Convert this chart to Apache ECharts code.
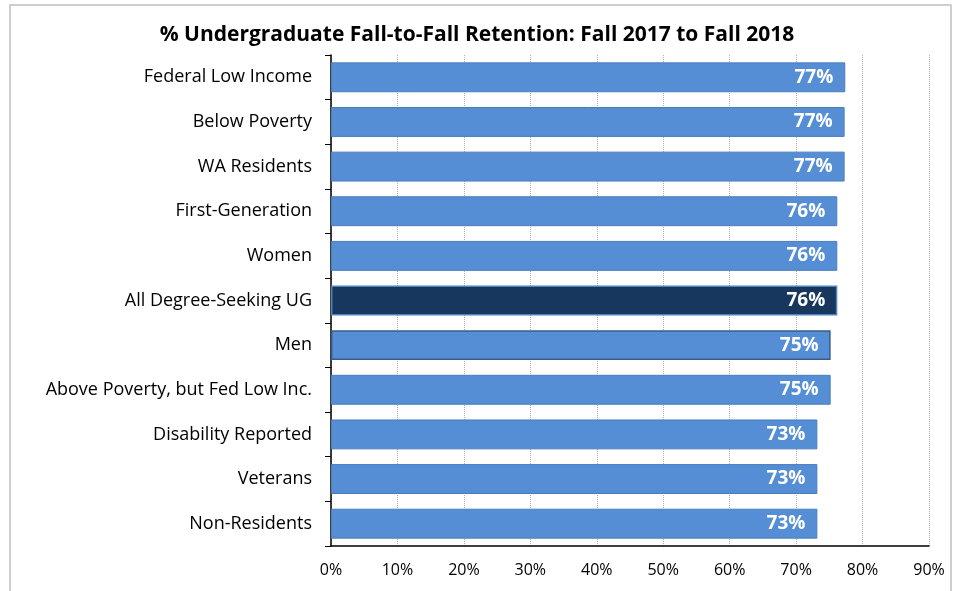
<!DOCTYPE html>
<html>
<head>
<meta charset="utf-8">
<script src="https://cdn.jsdelivr.net/npm/echarts@6/dist/echarts.min.js"></script>
<style>
  html, body { margin: 0; padding: 0; background: #fff; }
  #chart { width: 954px; height: 591px; }
</style>
</head>
<body>
<div id="chart"></div>
<script>
var categories = ['Federal Low Income', 'Below Poverty', 'WA Residents', 'First-Generation', 'Women',
  'All Degree-Seeking UG', 'Men', 'Above Poverty, but Fed Low Inc.', 'Disability Reported', 'Veterans', 'Non-Residents'];
var retention = [77.4, 77.3, 77.3, 76.2, 76.2, 76.2, 75.2, 75.2, 73.2, 73.2, 73.2];
var highlight = 'All Degree-Seeking UG';
var xTicks = [0, 10, 20, 30, 40, 50, 60, 70, 80, 90];

var font = '"Open Sans", sans-serif';

var myChart = echarts.init(document.getElementById('chart'));
var barData = retention.map(function (v, i) {
  var item = { value: v };
  if (categories[i] === highlight) {
    item.itemStyle = { color: '#17375E', borderColor: '#4F81BD', borderWidth: 1.5 };
  } else if (categories[i] === 'Men') {
    item.itemStyle = { color: '#558ED5', borderColor: '#385D8A', borderWidth: 1.5 };
  }
  return item;
});

var option = {
  animation: false,
  title: {
    text: '% Undergraduate Fall-to-Fall Retention: Fall 2017 to Fall 2018',
    left: 'center',
    top: 20,
    textStyle: { fontFamily: font, fontWeight: 'bold', fontSize: 21, color: '#000' }
  },
  graphic: [{
    type: 'rect',
    shape: { x: 10, y: 5, width: 941, height: 600 },
    style: { fill: 'none', stroke: '#bfbfbf', lineWidth: 1.5 },
    silent: true
  }],
  grid: { left: 331, top: 55, right: 25, bottom: 45 },
  xAxis: {
    type: 'value',
    min: xTicks[0],
    max: xTicks[xTicks.length - 1],
    interval: 10,
    axisLine: { show: true, lineStyle: { color: '#000', width: 1.5 } },
    axisTick: { show: false },
    axisLabel: {
      formatter: '{value}%', fontFamily: font, fontSize: 16, color: '#000', margin: 16
    },
    splitLine: { show: true, lineStyle: { color: '#b0b0b0', type: 'dotted', width: 1 } }
  },
  yAxis: {
    type: 'category',
    data: categories,
    inverse: true,
    axisLine: { show: true, lineStyle: { color: '#000', width: 1.5 } },
    axisTick: { show: true, length: 6, lineStyle: { color: '#000' } },
    axisLabel: { fontFamily: font, fontSize: 18, color: '#000', margin: 19 }
  },
  series: [{
    type: 'bar',
    data: barData,
    barCategoryGap: '33%',
    itemStyle: { color: '#558ED5', borderColor: '#4A7EBB', borderWidth: 1 },
    label: {
      show: true,
      position: 'insideRight',
      distance: 12,
      formatter: function (p) { return Math.round(p.value) + '%'; },
      fontFamily: font, fontWeight: 'bold', fontSize: 19, color: '#fff'
    }
  }]
};

myChart.setOption(option);
</script>
</body>
</html>
